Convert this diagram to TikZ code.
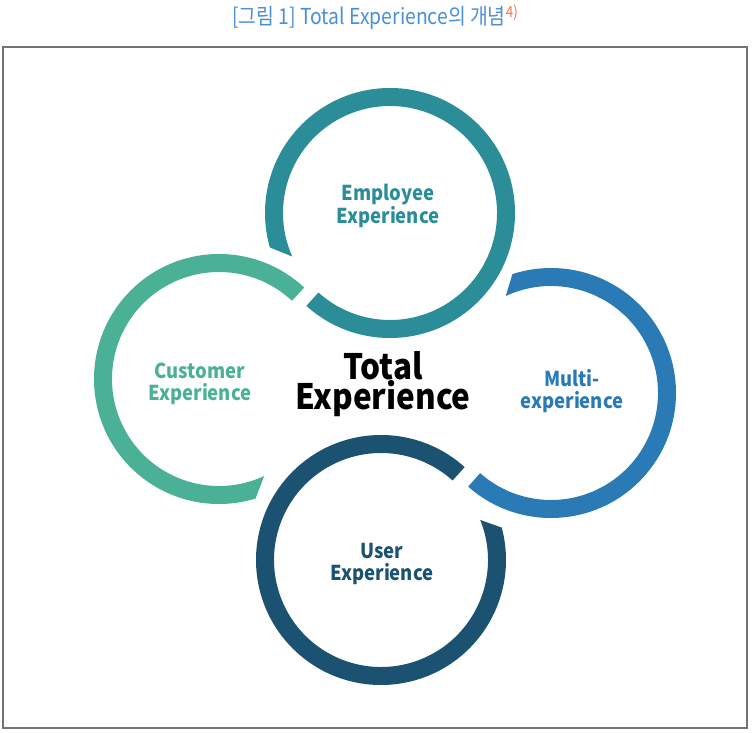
\documentclass[tikz,border=0pt]{standalone}
\usepackage{fontspec}
\setmainfont{Noto Sans CJK KR}
\newfontfamily\lblfont{Noto Sans CJK KR}[FakeStretch=0.9]
\newfontfamily\ttlfont{Noto Sans CJK KR}[FakeStretch=0.88]
\usetikzlibrary{calc}
\definecolor{cteal}{HTML}{2B8D98}
\definecolor{cgreen}{HTML}{4BB196}
\definecolor{cblue}{HTML}{2A7AB5}
\definecolor{cnavy}{HTML}{1B5272}
\definecolor{ctitle}{HTML}{4A90D9}
\definecolor{cnote}{HTML}{F0785A}
\begin{document}
\begin{tikzpicture}[x=1pt,y=1pt,
  lbl/.style={align=center,font=\lblfont\bfseries\fontsize{20.5}{22.5}\selectfont,inner sep=0pt},
  big/.style={anchor=base,inner sep=0pt,font=\lblfont\bfseries\fontsize{35}{35}\selectfont},
  frame/.style={draw=black!55,line width=1.5pt}]
\useasboundingbox (0,0) rectangle (752,732);
\fill[white] (0,0) rectangle (752,732);
% title
\node[anchor=base west,inner sep=0pt,text=ctitle,font=\ttlfont\fontsize{22}{24}\selectfont] (title) at (232,707)
  {[그림 1] Total Experience의 개념\textsuperscript{\textcolor{cnote}{4)}}};
% frame
\draw[frame] (3,4) rectangle (747,685);
% ring centres
\coordinate (T) at (390,519);
\coordinate (G) at (219,353);
\coordinate (B) at (551,339);
\coordinate (N) at (381,172);
% green ring
\fill[cgreen] ($(G)+(47:125)$) arc[start angle=47,end angle=287,radius=125]
  -- ($(G)+(295:107)$) arc[start angle=295,end angle=47,radius=107] -- cycle;
% teal ring
\fill[cteal] ($(T)+(228:125)$) arc[start angle=228,end angle=556,radius=125]
  -- ($(T)+(564:107)$) arc[start angle=564,end angle=228,radius=107] -- cycle;
% blue ring
\fill[cblue] ($(B)+(228.5:125)$) arc[start angle=228.5,end angle=468,radius=125]
  -- ($(B)+(475:107)$) arc[start angle=475,end angle=228.5,radius=107] -- cycle;
% navy ring
\fill[cnavy] ($(N)+(48:125)$) arc[start angle=48,end angle=375,radius=125]
  -- ($(N)+(382:107)$) arc[start angle=382,end angle=48,radius=107] -- cycle;
% labels
\node[lbl,text=cteal] (emp) at (388,526) {Employee\\Experience};
\node[lbl,text=cgreen] (cust) at (200,348) {Customer\\Experience};
\node[lbl,text=cblue] (multi) at (572,341) {Multi-\\experience};
\node[lbl,text=cnavy] (user) at (382,168) {User\\Experience};
\node[big] (total1) at (383,353) {Total};
\node[big] (total2) at (383,323) {Experience};
\end{tikzpicture}
\end{document}
